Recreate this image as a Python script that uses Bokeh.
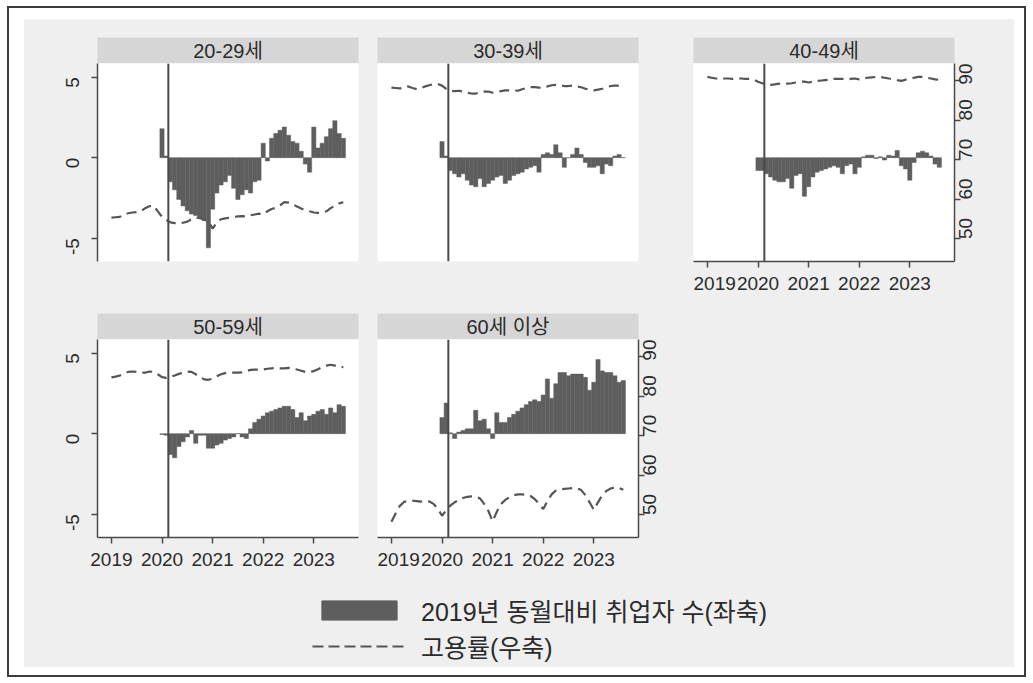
import math
import numpy as np
from bokeh.plotting import figure
from bokeh.models import Range1d, LinearAxis, FixedTicker, Span, Legend, LegendItem
from bokeh.layouts import row, column
from bokeh.embed import file_html
from bokeh.resources import INLINE
from bokeh.core.properties import value

# Panels: age groups
GROUPS = ["20-29세", "30-39세", "40-49세", "50-59세", "60세 이상"]

# x axis: months counted from January 2019, ticks on each January
YEAR_TICKS = [0, 12, 24, 36, 48]
YEAR_LABELS = ["2019", "2020", "2021", "2022", "2023"]
FIRST_BAR_MONTH = 12      # January 2020
LAST_MONTH = 55           # August 2023
SHOCK_MONTH = 13.5        # reference line drawn in early 2020

LEFT_TICKS = [-5, 0, 5]
LEFT_LABELS = ["-5", "0", "5"]
RIGHT_TICKS = [50, 60, 70, 80, 90]
RIGHT_LABELS = ["50", "60", "70", "80", "90"]

# Employed persons, change vs. the same month of 2019 (left axis), Jan 2020 - Aug 2023
CHANGE_20_29 = [1.8, 0.1, -1.5, -2.0, -2.6, -3.0, -3.3, -3.5, -3.6, -3.8,
                -3.9, -5.6, -3.2, -2.2, -1.7, -1.5, -1.1, -1.9, -2.6, -2.3,
                -2.0, -2.2, -1.5, -1.4, 0.9, -0.2, 1.2, 1.5, 1.7, 1.9,
                1.4, 1.0, 0.9, 0.4, -0.4, -0.9, 1.9, 0.6, 0.9, 1.3,
                1.8, 2.3, 1.5, 1.2]
CHANGE_30_39 = [1.0, 0.1, -0.8, -1.0, -1.2, -1.0, -1.4, -1.7, -1.8, -1.3,
                -1.8, -1.6, -1.4, -1.2, -1.1, -1.6, -1.4, -1.1, -1.0, -0.9,
                -0.7, -0.6, -0.5, -0.9, 0.2, 0.3, 0.2, 0.8, 0.3, -0.6,
                0.0, 0.2, 0.6, 0.2, -0.3, -0.6, -0.6, -0.5, -1.0, -0.4,
                -0.5, 0.1, 0.2, 0.0]
CHANGE_40_49 = [-0.8, -0.8, -1.0, -1.2, -1.4, -1.5, -1.5, -1.3, -1.9, -1.1,
                -1.0, -2.4, -1.8, -1.2, -0.9, -0.8, -0.7, -0.6, -0.5, -0.6,
                -1.0, -0.5, -0.4, -1.0, -0.6, 0.05, 0.15, 0.15, -0.05, 0.05,
                -0.15, 0.15, 0.1, 0.45, -0.5, -0.7, -1.4, -0.3, 0.3, 0.4,
                0.3, 0.1, -0.4, -0.6]
CHANGE_50_59 = [-0.05, -0.1, -1.3, -1.5, -0.8, -0.5, -0.2, 0.2, -0.6, -0.1,
                -0.1, -0.9, -0.9, -0.7, -0.6, -0.4, -0.3, -0.2, 0.0, -0.2,
                -0.3, 0.3, 0.7, 0.9, 1.1, 1.3, 1.4, 1.5, 1.6, 1.7,
                1.7, 1.5, 1.0, 1.3, 0.8, 1.1, 1.2, 1.4, 1.5, 1.2,
                1.6, 1.3, 1.8, 1.7]
CHANGE_60_PLUS = [1.0, 1.9, 0.05, -0.3, 0.1, 0.2, 0.3, 0.3, 1.45, 0.8,
                  0.9, 0.3, -0.3, 1.3, 0.7, 0.7, 1.0, 1.2, 1.4, 1.6,
                  1.8, 2.0, 2.1, 2.0, 2.4, 3.4, 2.2, 3.1, 3.8, 3.8,
                  3.6, 3.7, 3.7, 3.7, 3.5, 2.7, 3.2, 4.6, 3.9, 3.8,
                  3.8, 3.6, 3.2, 3.3]

# Employment rate, % (right axis), Jan 2019 - Aug 2023
RATE_20_29 = [55.4, 55.5, 55.6, 56.2, 56.5, 56.7, 56.8, 57.0, 57.8, 58.3, 58.4, 57.0,
              55.6, 54.8, 54.2, 54.0, 54.0, 54.1, 54.4, 55.0, 55.4, 55.3, 54.9, 54.5,
              52.6, 54.2, 55.0, 55.2, 55.4, 55.6, 55.7, 55.8, 55.7, 56.0, 56.2, 56.4,
              56.2, 57.0, 57.6, 57.9, 58.5, 59.3, 59.2, 58.8, 58.2, 57.7, 57.3, 57.0,
              56.7, 56.6, 56.7, 57.0, 57.8, 58.4, 59.0, 59.3]
RATE_30_39 = [88.3, 88.2, 88.1, 88.3, 88.6, 88.2, 87.9, 88.2, 88.6, 88.9, 89.2, 89.2,
              88.8, 88.0, 87.5, 87.4, 87.5, 87.3, 87.0, 86.8, 86.8, 87.1, 87.3, 87.3,
              87.0, 87.2, 87.4, 87.6, 87.6, 87.6, 87.5, 87.9, 88.2, 88.4, 88.4, 88.3,
              88.2, 88.6, 88.9, 89.0, 88.9, 88.7, 88.7, 88.8, 88.6, 88.4, 88.0, 87.8,
              87.6, 87.8, 88.0, 88.4, 88.7, 88.8, 88.8, 88.7]
RATE_40_49 = [91.0, 90.8, 90.6, 90.5, 90.6, 90.6, 90.5, 90.6, 90.6, 90.5, 90.5, 90.3,
              89.8, 89.4, 89.1, 89.0, 89.1, 89.3, 89.4, 89.3, 89.4, 89.6, 89.8, 89.8,
              89.6, 89.8, 90.0, 90.1, 90.2, 90.3, 90.5, 90.5, 90.5, 90.4, 90.5, 90.6,
              90.4, 90.6, 90.8, 90.9, 91.0, 91.0, 90.8, 90.6, 90.5, 90.2, 90.0, 90.3,
              90.5, 90.8, 91.0, 91.0, 90.8, 90.6, 90.4, 90.3]
RATE_50_59 = [84.8, 85.0, 85.3, 85.8, 86.2, 86.3, 86.2, 86.0, 86.0, 86.3, 86.2, 85.6,
              84.9, 84.7, 85.0, 85.3, 85.7, 86.0, 86.3, 86.2, 85.6, 84.9, 84.3, 84.2,
              84.5, 85.1, 85.6, 85.9, 86.0, 86.0, 86.0, 86.1, 86.4, 86.7, 86.8, 86.8,
              86.8, 87.0, 87.1, 87.2, 87.1, 87.1, 87.2, 87.0, 86.8, 86.5, 86.2, 86.2,
              86.4, 86.9, 87.4, 87.8, 88.0, 87.8, 87.5, 87.4]
RATE_60_PLUS = [48.3, 50.4, 52.3, 53.3, 53.6, 53.6, 53.5, 53.4, 53.6, 53.4, 52.8, 51.6,
                49.8, 51.2, 52.4, 53.2, 53.8, 54.3, 54.6, 54.7, 54.6, 54.2, 52.8, 51.0,
                48.4, 50.8, 52.8, 53.8, 54.5, 55.0, 55.2, 55.2, 55.1, 54.8, 54.0, 52.9,
                51.5, 53.5, 55.2, 56.2, 56.5, 56.6, 56.7, 56.8, 56.8, 56.3, 55.0, 53.2,
                51.3, 53.2, 55.0, 56.1, 56.7, 57.0, 56.8, 56.4]

LEGEND_LABELS = ["2019년 동월대비 취업자 수(좌축)", "고용률(우축)"]

# Styling
PAGE_BG = "#efefef"
STRIP_BG = "#d6d6d6"
BAR_COLOR = "#5e5e5e"
LINE_COLOR = "#555555"
AXIS_COLOR = "#4a4a4a"
TEXT_COLOR = "#2b2b2b"
LABEL_FONT = "Liberation Sans, Noto Sans CJK KR"
FRAME_W, FRAME_H = 261, 198
STRIP_H = 26

rate_months = np.arange(0, LAST_MONTH + 1)
bar_months = np.arange(FIRST_BAR_MONTH, LAST_MONTH + 1)


def style_axis(ax):
    ax.axis_line_color = AXIS_COLOR
    ax.axis_line_width = 1.5
    ax.major_tick_line_color = AXIS_COLOR
    ax.major_tick_line_width = 1.5
    ax.major_tick_in = 0
    ax.major_tick_out = 6
    ax.minor_tick_line_color = None
    ax.major_label_text_font = "Liberation Sans"
    ax.major_label_text_font_size = "19px"
    ax.major_label_text_color = TEXT_COLOR


def strip(title, left, right, top):
    s = figure(frame_width=FRAME_W, frame_height=STRIP_H,
               x_range=Range1d(0, 1), y_range=Range1d(0, 1),
               x_axis_location=None, y_axis_location=None,
               output_backend="svg", toolbar_location=None,
               min_border_left=left, min_border_right=right,
               min_border_top=top, min_border_bottom=0)
    s.background_fill_color = STRIP_BG
    s.border_fill_color = PAGE_BG
    s.outline_line_color = None
    s.grid.visible = False
    s.text(x=[0.5], y=[0.5], text=[title], text_align="center",
           text_baseline="middle", text_font=value(LABEL_FONT),
           text_font_size="20px", text_color=TEXT_COLOR)
    return s


def panel(change, rate, left, right, bottom, left_axis=False,
          right_axis=False, bottom_axis=False):
    p = figure(frame_width=FRAME_W, frame_height=FRAME_H,
               x_range=Range1d(-3.3, 58.6), y_range=Range1d(-6.45, 5.85),
               x_axis_location=None, y_axis_location=None,
               output_backend="svg", toolbar_location=None,
               min_border_left=left, min_border_right=right,
               min_border_top=0, min_border_bottom=bottom)
    p.extra_y_ranges = {"rate": Range1d(44.3, 94.4)}
    p.background_fill_color = "white"
    p.border_fill_color = PAGE_BG
    p.outline_line_color = None
    p.grid.visible = False

    p.add_layout(Span(location=SHOCK_MONTH, dimension="height",
                      line_color=AXIS_COLOR, line_width=2))
    p.vbar(x=bar_months, top=change, bottom=0, width=1,
           fill_color=BAR_COLOR, line_color=BAR_COLOR, line_width=0.5)
    p.line(rate_months, rate, y_range_name="rate", line_color=LINE_COLOR,
           line_width=2.2, line_dash="10 6")

    if left_axis:
        ax = LinearAxis(ticker=FixedTicker(ticks=LEFT_TICKS),
                        major_label_overrides=dict(zip(LEFT_TICKS, LEFT_LABELS)),
                        major_label_orientation=math.pi / 2,
                        major_label_standoff=19)
        style_axis(ax)
        p.add_layout(ax, "left")
    if right_axis:
        ax = LinearAxis(y_range_name="rate",
                        ticker=FixedTicker(ticks=RIGHT_TICKS),
                        major_label_overrides=dict(zip(RIGHT_TICKS, RIGHT_LABELS)),
                        major_label_orientation=math.pi / 2,
                        major_label_standoff=5)
        style_axis(ax)
        p.add_layout(ax, "right")
    if bottom_axis:
        ax = LinearAxis(ticker=FixedTicker(ticks=YEAR_TICKS),
                        major_label_overrides=dict(zip(YEAR_TICKS, YEAR_LABELS)),
                        major_label_standoff=9)
        style_axis(ax)
        p.add_layout(ax, "below")
    return p


p1 = panel(CHANGE_20_29, RATE_20_29, 73, 19, 52, left_axis=True)
p2 = panel(CHANGE_30_39, RATE_30_39, 0, 55, 52)
p3 = panel(CHANGE_40_49, RATE_40_49, 0, 60, 52, right_axis=True, bottom_axis=True)
p4 = panel(CHANGE_50_59, RATE_50_59, 73, 19, 48, left_axis=True, bottom_axis=True)
p5 = panel(CHANGE_60_PLUS, RATE_60_PLUS, 0, 55, 48, right_axis=True, bottom_axis=True)

row1 = row(column(strip(GROUPS[0], 73, 19, 18), p1),
           column(strip(GROUPS[1], 0, 55, 18), p2),
           column(strip(GROUPS[2], 0, 60, 18), p3))

blank = figure(width=321, height=STRIP_H + FRAME_H + 48,
               x_axis_location=None, y_axis_location=None,
               output_backend="svg", toolbar_location=None, min_border=0)
blank.background_fill_color = PAGE_BG
blank.border_fill_color = PAGE_BG
blank.outline_line_color = None
blank.grid.visible = False

row2 = row(column(strip(GROUPS[3], 73, 19, 0), p4),
           column(strip(GROUPS[4], 0, 55, 0), p5),
           blank)

# Legend panel: sample glyphs sit outside the visible range, only their keys show
lg = figure(width=990, height=82, x_range=Range1d(0, 1), y_range=Range1d(0, 1),
            x_axis_location=None, y_axis_location=None,
            output_backend="svg", toolbar_location=None, min_border=0)
lg.background_fill_color = PAGE_BG
lg.border_fill_color = PAGE_BG
lg.outline_line_color = None
lg.grid.visible = False
r_bar = lg.vbar(x=[5], top=[6], bottom=[5], width=1,
                fill_color=BAR_COLOR, line_color=BAR_COLOR)
r_line = lg.line(x=[5, 6], y=[5, 5], line_color=LINE_COLOR, line_width=2.2,
                 line_dash="11 5")
legend = Legend(items=[LegendItem(label=LEGEND_LABELS[0], renderers=[r_bar]),
                       LegendItem(label=LEGEND_LABELS[1], renderers=[r_line])],
                location=(288, 3), orientation="vertical",
                glyph_width=94, glyph_height=24, label_standoff=15,
                spacing=0, padding=0, margin=0,
                border_line_color=None, background_fill_alpha=0,
                label_text_font=LABEL_FONT, label_text_font_size="25px",
                label_text_color=TEXT_COLOR)
lg.add_layout(legend)

inner = column(row1, row2, lg, styles={"background-color": PAGE_BG})
page = column(inner, margin=(6, 0, 0, 7),
              styles={"border": "2px solid #3c3c3c", "background-color": "#ffffff",
                      "padding": "11px 10px 8px 15px"})

open("out.html", "w").write(file_html(page, INLINE))
